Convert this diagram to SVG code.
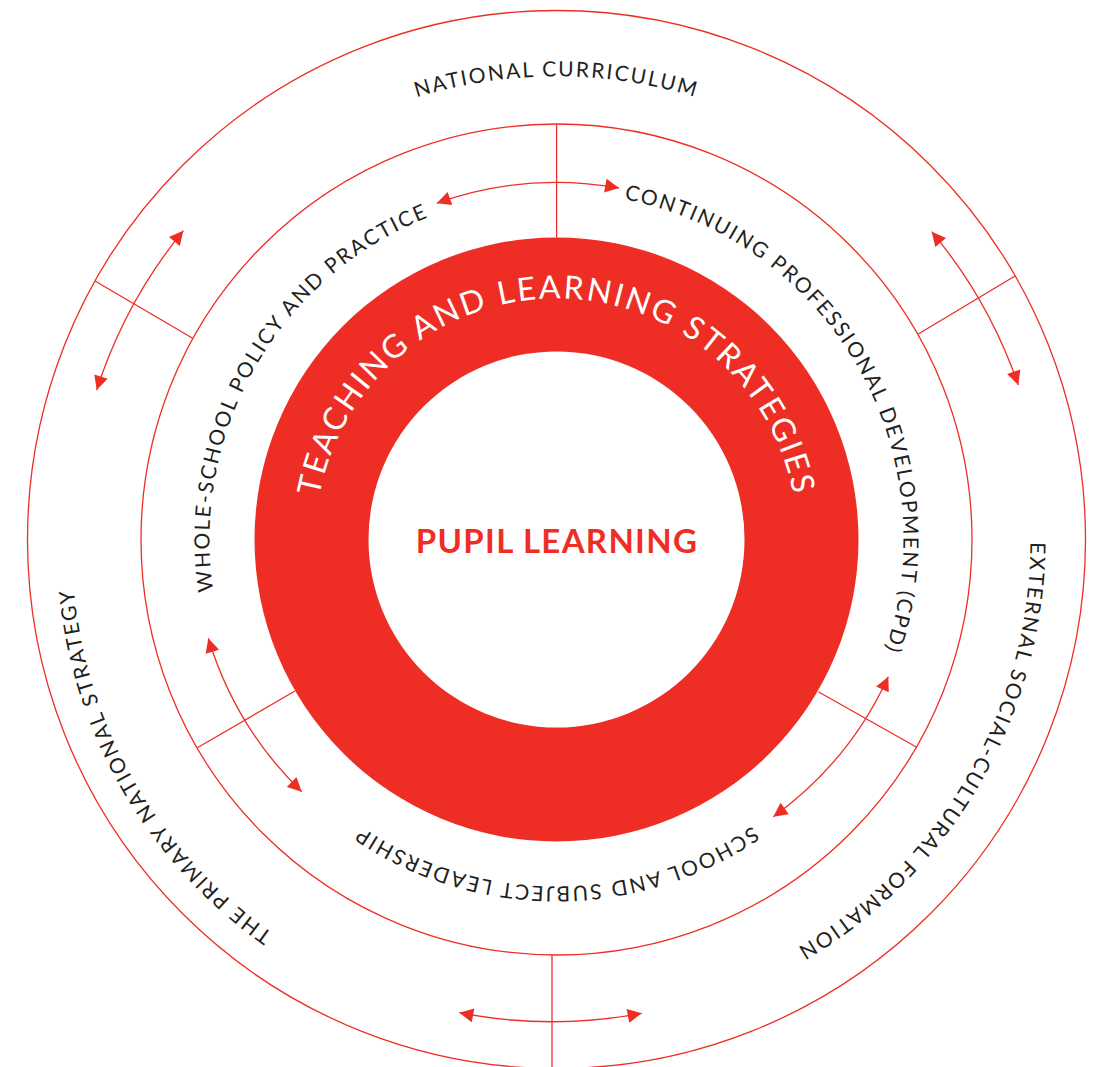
<svg xmlns="http://www.w3.org/2000/svg" width="1093" height="1067" viewBox="0 0 1093 1067">
  <style>
    .ring { fill: none; stroke: #ee2e24; stroke-width: 1.3; }
    .div { stroke: #ee2e24; stroke-width: 1.3; fill: none; }
    .arr { stroke: #ee2e24; stroke-width: 1.3; fill: none; marker-start: url(#ah); marker-end: url(#ah); }
    .lbl { font-family: Lato, "Noto Sans", "Liberation Sans", sans-serif; font-size: 21px; fill: #231f20; letter-spacing: 2px; }
    .wlbl { font-family: Lato, "Noto Sans", "Liberation Sans", sans-serif; font-weight: 400; font-size: 32px; fill: #ffffff; letter-spacing: 2.4px; }
    .core { font-family: Lato, "Noto Sans", "Liberation Sans", sans-serif; font-weight: 700; font-size: 33px; fill: #ee2e24; letter-spacing: 1.3px; }
  </style>
  <defs>
    <marker id="ah" markerUnits="userSpaceOnUse" markerWidth="14" markerHeight="14" refX="14" refY="7" orient="auto-start-reverse" overflow="visible">
      <path d="M0,0 L14,7 L0,14 z" fill="#ee2e24"/>
    </marker>
    <path id="p-nc" d="M91.67,457.54 A474,474 0 0 1 1021.33,457.54"/>
    <path id="p-cpd" d="M437.82,213.43 A347,347 0 0 1 779.55,805.32"/>
    <path id="p-ws" d="M333.45,805.32 A347,347 0 0 1 675.18,213.43"/>
    <path id="p-sl" d="M898.23,599.76 A347,347 0 0 1 214.77,599.76"/>
    <path id="p-pns" d="M719.30,986.79 A474,474 0 0 1 250.53,174.86"/>
    <path id="p-ext" d="M861.18,176.40 A474,474 0 0 1 394.38,984.91"/>
    <path id="p-tl" d="M315.5,539.5 A241,241 0 0 1 797.5,539.5"/>
  </defs>
  <rect width="1093" height="1067" fill="#ffffff"/>

  <g id="outer-ring">
    <circle class="ring" cx="556.5" cy="539.5" r="529"/>
  </g>
  <g id="middle-ring">
    <circle class="ring" cx="556.5" cy="539.5" r="415.5"/>
  </g>
  <g id="teaching-ring">
    <circle cx="556.5" cy="539.5" r="302" fill="#ee2e24"/>
    <circle cx="556.5" cy="539.5" r="188" fill="#ffffff"/>
    <text class="wlbl"><textPath href="#p-tl" startOffset="50%" text-anchor="middle">TEACHING AND LEARNING STRATEGIES</textPath></text>
  </g>
  <g id="pupil-learning">
    <text class="core" x="557" y="553" text-anchor="middle">PUPIL LEARNING</text>
  </g>

  <g id="national-curriculum">
    <text class="lbl"><textPath href="#p-nc" startOffset="50%" text-anchor="middle">NATIONAL CURRICULUM</textPath></text>
  </g>
  <g id="external">
    <text class="lbl"><textPath href="#p-ext" startOffset="50%" text-anchor="middle">EXTERNAL SOCIAL-CULTURAL FORMATION</textPath></text>
  </g>
  <g id="primary-strategy">
    <text class="lbl"><textPath href="#p-pns" startOffset="50%" text-anchor="middle">THE PRIMARY NATIONAL STRATEGY</textPath></text>
  </g>
  <g id="cpd">
    <text class="lbl"><textPath href="#p-cpd" startOffset="50%" text-anchor="middle">CONTINUING PROFESSIONAL DEVELOPMENT (CPD)</textPath></text>
  </g>
  <g id="whole-school">
    <text class="lbl"><textPath href="#p-ws" startOffset="50%" text-anchor="middle">WHOLE-SCHOOL POLICY AND PRACTICE</textPath></text>
  </g>
  <g id="leadership">
    <text class="lbl"><textPath href="#p-sl" startOffset="50%" text-anchor="middle">SCHOOL AND SUBJECT LEADERSHIP</textPath></text>
  </g>

  <g id="connectors">
    <line class="div" x1="556.6" y1="124.5" x2="556.6" y2="237.5"/>
    <line class="div" x1="552" y1="954.5" x2="552" y2="1067"/>
    <line class="div" x1="95" y1="281" x2="192.7" y2="338.3"/>
    <line class="div" x1="1015" y1="276" x2="918.3" y2="334"/>
    <line class="div" x1="197.3" y1="747.7" x2="295" y2="691"/>
    <line class="div" x1="818.3" y1="691.7" x2="916.7" y2="747.3"/>
    <path class="arr" d="M436.74,203.18 A357,357 0 0 1 619.11,188.03"/>
    <path class="arr" d="M641.7,1013.3 A483,483 0 0 1 459.3,1012.7"/>
    <path class="arr" d="M96.7,390 A486,486 0 0 1 183.3,230.7"/>
    <path class="arr" d="M931.7,231.7 A486,486 0 0 1 1018.3,385"/>
    <path class="arr" d="M301.7,791.7 A360,360 0 0 1 208.3,638.3"/>
    <path class="arr" d="M888.3,676.7 A356,356 0 0 1 773.3,816.7"/>
  </g>
</svg>
